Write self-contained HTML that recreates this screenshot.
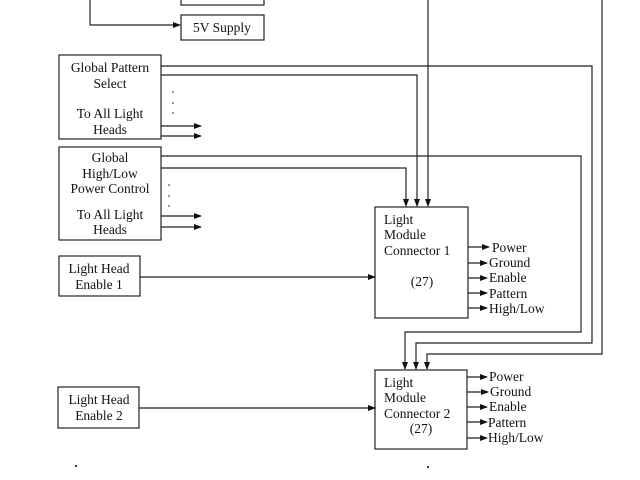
<!DOCTYPE html>
<html><head><meta charset="utf-8"><style>
html,body{margin:0;padding:0;background:#fff;width:640px;height:480px;overflow:hidden}
text{font-family:"Liberation Serif",serif;font-size:13.5px;fill:#111}
</style></head><body>
<svg width="640" height="480" viewBox="0 0 640 480" xmlns="http://www.w3.org/2000/svg">
<defs><marker id="a" markerWidth="8" markerHeight="6" refX="7" refY="3" orient="auto" markerUnits="userSpaceOnUse"><path d="M0,0 L8,3 L0,6z" fill="#111"/></marker></defs>
<g stroke="#222" stroke-width="1.2" fill="none">
<rect x="181" y="-5" width="83" height="10"/>
<rect x="181" y="15" width="83" height="25"/>
<polyline points="90,0 90,25 180,25" marker-end="url(#a)"/>
<rect x="59" y="55" width="102" height="84"/>
<rect x="59" y="147" width="102" height="93"/>
<rect x="59" y="256" width="81" height="40"/>
<rect x="58" y="387" width="81" height="41"/>
<rect x="375" y="207" width="93" height="111"/>
<rect x="375" y="370" width="92" height="79"/>
<line x1="161" y1="126" x2="201" y2="126" marker-end="url(#a)"/>
<line x1="161" y1="136" x2="201" y2="136" marker-end="url(#a)"/>
<line x1="161" y1="216" x2="201" y2="216" marker-end="url(#a)"/>
<line x1="161" y1="227" x2="201" y2="227" marker-end="url(#a)"/>
<line x1="140" y1="277" x2="375" y2="277" marker-end="url(#a)"/>
<line x1="139" y1="408" x2="375" y2="408" marker-end="url(#a)"/>
<line x1="428" y1="0" x2="428" y2="206" marker-end="url(#a)"/>
<polyline points="161,75 417,75 417,206" marker-end="url(#a)"/>
<polyline points="161,168 406,168 406,206" marker-end="url(#a)"/>
<polyline points="602,0 602,354 427,354 427,369" marker-end="url(#a)"/>
<polyline points="161,66 592,66 592,343 416,343 416,369" marker-end="url(#a)"/>
<polyline points="161,156 581,156 581,332 405,332 405,369" marker-end="url(#a)"/>
<line x1="468" y1="247" x2="489" y2="247" marker-end="url(#a)"/>
<line x1="468" y1="263" x2="487" y2="263" marker-end="url(#a)"/>
<line x1="468" y1="278" x2="487" y2="278" marker-end="url(#a)"/>
<line x1="468" y1="293" x2="487" y2="293" marker-end="url(#a)"/>
<line x1="468" y1="308" x2="487" y2="308" marker-end="url(#a)"/>
<line x1="467" y1="377" x2="487" y2="377" marker-end="url(#a)"/>
<line x1="467" y1="392" x2="488" y2="392" marker-end="url(#a)"/>
<line x1="467" y1="407" x2="487" y2="407" marker-end="url(#a)"/>
<line x1="467" y1="422" x2="487" y2="422" marker-end="url(#a)"/>
<line x1="467" y1="438" x2="487" y2="438" marker-end="url(#a)"/>
</g>
<g fill="#222">
<circle cx="173" cy="92" r="0.8"/><circle cx="173" cy="103" r="0.8"/><circle cx="173" cy="113" r="0.8"/>
<circle cx="169" cy="185" r="0.8"/><circle cx="169" cy="196" r="0.8"/><circle cx="169" cy="206" r="0.8"/>
<circle cx="76" cy="466" r="1.1"/><circle cx="428" cy="467" r="1.1"/>
</g>
<g text-anchor="middle">
<text x="222" y="32">5V Supply</text>
<text x="110" y="72">Global Pattern</text>
<text x="110" y="88">Select</text>
<text x="110" y="118">To All Light</text>
<text x="110" y="134">Heads</text>
<text x="110" y="162">Global</text>
<text x="110" y="178">High/Low</text>
<text x="110" y="193">Power Control</text>
<text x="110" y="219">To All Light</text>
<text x="110" y="234">Heads</text>
<text x="99" y="273">Light Head</text>
<text x="99" y="289">Enable 1</text>
<text x="99" y="404">Light Head</text>
<text x="99" y="420">Enable 2</text>
<text x="422" y="286">(27)</text>
<text x="421" y="433">(27)</text>
</g>
<text x="384" y="224">Light</text>
<text x="384" y="239">Module</text>
<text x="384" y="255">Connector 1</text>
<text x="384" y="387">Light</text>
<text x="384" y="402">Module</text>
<text x="384" y="418">Connector 2</text>
<text x="492" y="252">Power</text>
<text x="489" y="267">Ground</text>
<text x="489" y="282">Enable</text>
<text x="489" y="298">Pattern</text>
<text x="489" y="313">High/Low</text>
<text x="489" y="381">Power</text>
<text x="490" y="396">Ground</text>
<text x="489" y="411">Enable</text>
<text x="488" y="427">Pattern</text>
<text x="488" y="442">High/Low</text>
</svg>
</body></html>
